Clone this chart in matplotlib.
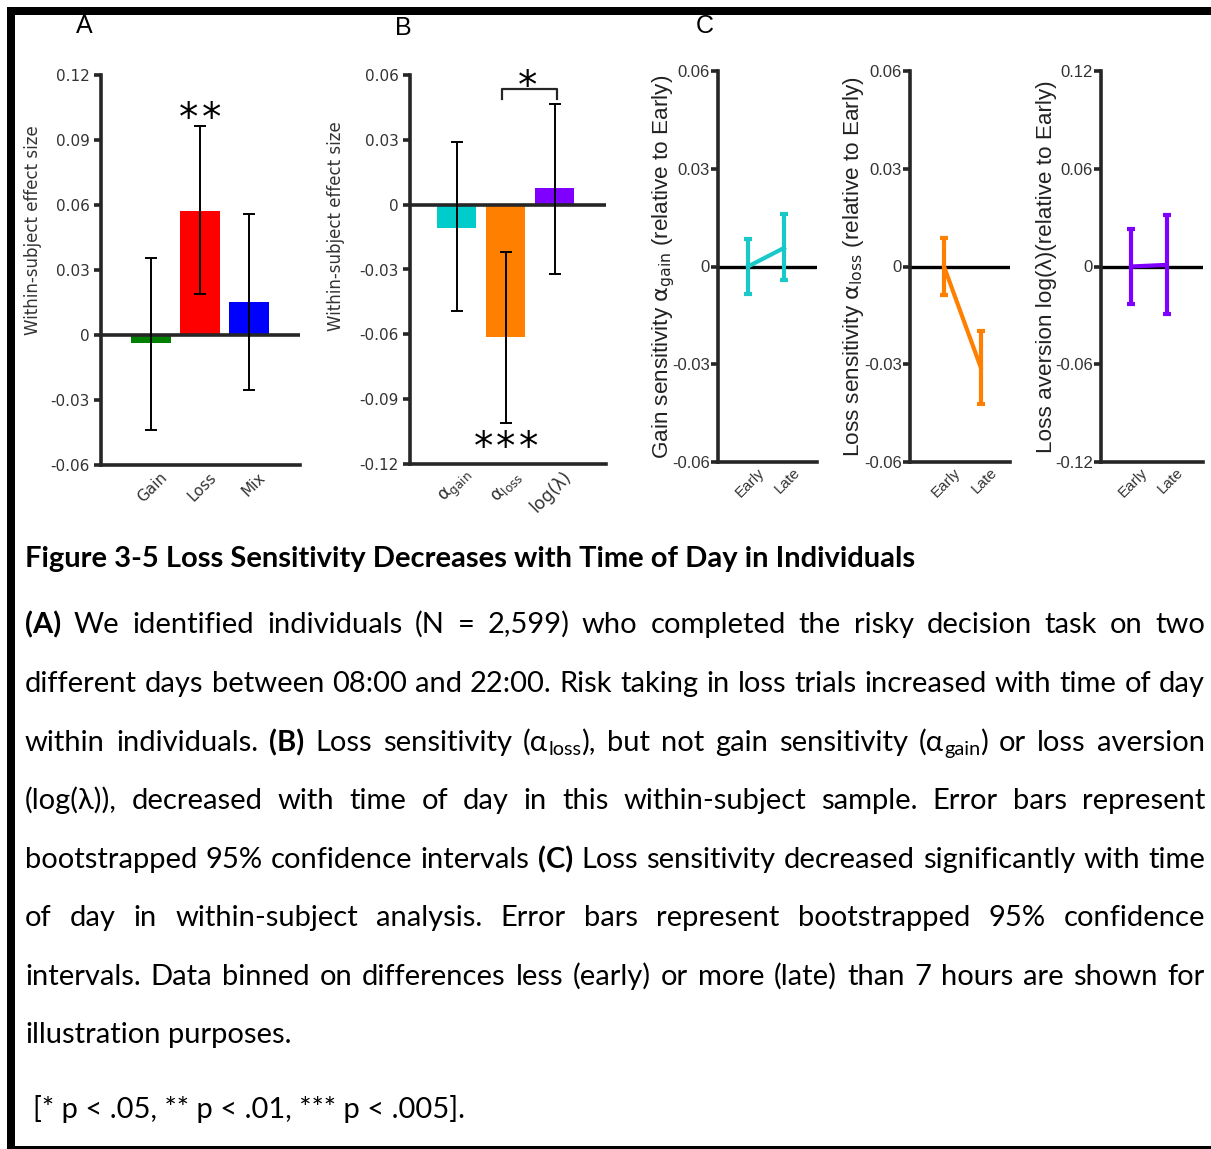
import re
import matplotlib
matplotlib.use("Agg")
import matplotlib.pyplot as plt
from matplotlib.patches import Rectangle
from matplotlib.transforms import ScaledTranslation

W, H = 1211, 1149

# ---- panel A: within-subject effect sizes (risk taking)
a_labels = ["Gain", "Loss", "Mix"]
a_means = [-0.0035, 0.0572, 0.0151]
a_ci_low = [-0.0438, 0.0189, -0.0252]
a_ci_high = [0.0357, 0.0965, 0.0557]
a_colors = ["#008000", "#ff0000", "#0000ff"]
a_ticks = [-0.06, -0.03, 0, 0.03, 0.06, 0.09, 0.12]
a_ticklabels = ["-0.06", "-0.03", "0", "0.03", "0.06", "0.09", "0.12"]

# ---- panel B: model parameters
b_labels = [r"$\mathrm{\alpha_{gain}}$", r"$\mathrm{\alpha_{loss}}$", "log(λ)"]
b_means = [-0.0106, -0.0611, 0.0077]
b_ci_low = [-0.0494, -0.1008, -0.0323]
b_ci_high = [0.0292, -0.0218, 0.0465]
b_colors = ["#00cccc", "#ff8000", "#8000ff"]
b_ticks = [-0.12, -0.09, -0.06, -0.03, 0, 0.03, 0.06]
b_ticklabels = ["-0.12", "-0.09", "-0.06", "-0.03", "0", "0.03", "0.06"]

# ---- panel C: early vs late
c_times = ["Early", "Late"]
c_gain_mean = [0.0, 0.0057]
c_gain_low = [-0.0084, -0.0041]
c_gain_high = [0.0083, 0.0160]
c_loss_mean = [0.0, -0.0309]
c_loss_low = [-0.0089, -0.0421]
c_loss_high = [0.0087, -0.0199]
c_lam_mean = [0.0, 0.0010]
c_lam_low = [-0.0233, -0.0290]
c_lam_high = [0.0231, 0.0317]
c_ticks_small = [-0.06, -0.03, 0, 0.03, 0.06]
c_ticklabels_small = ["-0.06", "-0.03", "0", "0.03", "0.06"]
c_ticks_big = [-0.12, -0.06, 0, 0.06, 0.12]
c_ticklabels_big = ["-0.12", "-0.06", "0", "0.06", "0.12"]

caption_title = "Figure 3-5 Loss Sensitivity Decreases with Time of Day in Individuals"
caption_lines = [
    "§(A) We identified individuals (N = 2,599) who completed the risky decision task on two",
    "different days between 08:00 and 22:00. Risk taking in loss trials increased with time of day",
    "within individuals. §(B) Loss sensitivity (α_{loss}), but not gain sensitivity (α_{gain}) or loss aversion",
    "(log(λ)), decreased with time of day in this within-subject sample. Error bars represent",
    "bootstrapped 95% confidence intervals §(C) Loss sensitivity decreased significantly with time",
    "of day in within-subject analysis. Error bars represent bootstrapped 95% confidence",
    "intervals. Data binned on differences less (early) or more (late) than 7 hours are shown for",
    "illustration purposes.",
]
caption_note = "[* p < .05, ** p < .01, *** p < .005]."

SPINE = "#262626"
TICKC = "#333333"
AB_FONT = ["DejaVu Sans"]
C_FONT = ["Liberation Sans", "DejaVu Sans"]
CAP_FONT = ["Lato", "DejaVu Sans"]

fig = plt.figure(figsize=(W / 100, H / 100), dpi=100)


def ax_at(x0, y0, x1, y1):
    return fig.add_axes([x0 / W, 1 - y1 / H, (x1 - x0) / W, (y1 - y0) / H])


def px_rect(x0, y0, x1, y1):
    fig.add_artist(Rectangle((x0 / W, 1 - y1 / H), (x1 - x0) / W, (y1 - y0) / H,
                             transform=fig.transFigure, color="black", lw=0))


def style_axes(ax, ticks, ticklabels, fam, tsize, pad):
    for s in ["top", "right"]:
        ax.spines[s].set_visible(False)
    for s in ["left", "bottom"]:
        ax.spines[s].set_linewidth(2.6)
        ax.spines[s].set_color(SPINE)
    ax.set_yticks(ticks)
    ax.set_yticklabels(ticklabels, family=fam, fontsize=tsize, color=TICKC)
    ax.tick_params(axis="y", direction="out", length=5, width=2.6, color=SPINE, pad=pad)
    ax.tick_params(axis="x", length=0)


def shift_xlabels(ax, dx_px, fam, size, pad):
    ax.tick_params(axis="x", pad=pad)
    for lbl in ax.get_xticklabels():
        lbl.set_rotation(45)
        lbl.set_ha("right")
        lbl.set_va("center")
        lbl.set_rotation_mode("anchor")
        lbl.set_family(fam)
        lbl.set_fontsize(size)
        lbl.set_color(TICKC)
        lbl.set_transform(lbl.get_transform() + ScaledTranslation(dx_px / 100, 0, fig.dpi_scale_trans))


def stars(ax, xc, y, n, pitch):
    # individual asterisks, spaced like the original
    for k in range(n):
        ax.text(xc + (k - (n - 1) / 2) * pitch, y, "*", ha="center", va="baseline",
                fontsize=28, family=AB_FONT, clip_on=False)


def bar_panel(box, xlim, width, labels, means, lo, hi, colors, ylim, ticks, ticklabels, ylab_xy, lsize):
    ax = ax_at(*box)
    x = list(range(1, len(means) + 1))
    ax.bar(x, means, width=width, color=colors, zorder=1)
    ax.axhline(0, color=SPINE, lw=2.6, zorder=2)
    yerr = [[m - l for m, l in zip(means, lo)], [h - m for m, h in zip(means, hi)]]
    ax.errorbar(x, means, yerr=yerr, fmt="none", ecolor="black", elinewidth=1.4,
                capsize=4, capthick=1.4, zorder=3)
    ax.set_xlim(*xlim)
    ax.set_ylim(*ylim)
    style_axes(ax, ticks, ticklabels, AB_FONT, 11, 3)
    ax.set_xticks(x)
    ax.set_xticklabels(labels)
    shift_xlabels(ax, 14, AB_FONT, lsize, 7)
    ax.text(ylab_xy[0], ylab_xy[1], "Within-subject effect size", transform=ax.transAxes,
            rotation=90, ha="center", va="center", family=AB_FONT, fontsize=12, color=TICKC)
    return ax


def c_panel(box, early_px, spacing_px, means, lo, hi, color, ticks, ticklabels, ylabel, ylab_x):
    ax = ax_at(*box)
    x0, y0, x1, y1 = box
    left = 1 - (early_px - x0) / spacing_px
    ax.set_xlim(left, left + (x1 - x0) / spacing_px)
    ax.set_ylim(ticks[0], ticks[-1])
    ax.axhline(0, color="black", lw=2.4, zorder=1)
    x = [1, 2]
    yerr = [[m - l for m, l in zip(means, lo)], [h - m for m, h in zip(means, hi)]]
    ax.errorbar(x, means, yerr=yerr, fmt="-", color=color, lw=3, elinewidth=3,
                capsize=3, capthick=3, zorder=3)
    style_axes(ax, ticks, ticklabels, C_FONT, 12, 1)
    ax.set_xticks(x)
    ax.set_xticklabels(c_times)
    shift_xlabels(ax, 14, C_FONT, 11, 6)
    ax.text(ylab_x, 0.5, ylabel, transform=ax.transAxes, rotation=90, ha="center",
            va="center", family=C_FONT, fontsize=16.2, color="#222222")
    return ax


# panel A
ax_a = bar_panel((101, 75, 300, 465), (-0.02, 4.04), 0.82, a_labels, a_means, a_ci_low,
                 a_ci_high, a_colors, (-0.06, 0.12), a_ticks, a_ticklabels, (-0.342, 0.603), 11)
stars(ax_a, 2, 0.0944, 2, 0.47)

# panel B
ax_b = bar_panel((410, 75, 606, 464), (0.05, 4.05), 0.8, b_labels, b_means, b_ci_low,
                 b_ci_high, b_colors, (-0.12, 0.06), b_ticks, b_ticklabels, (-0.378, 0.612), 12.5)
ax_b.plot([1.92, 1.92, 3.04, 3.04], [0.049, 0.0534, 0.0534, 0.049], color=SPINE, lw=1.6,
          clip_on=False)
stars(ax_b, 2.44, 0.0492, 1, 0.45)
stars(ax_b, 2.01, -0.1177, 3, 0.45)

# panel C
c_panel((718, 71, 817, 462), 748, 36, c_gain_mean, c_gain_low, c_gain_high, "#19c8c8",
        c_ticks_small, c_ticklabels_small,
        r"Gain sensitivity $\mathrm{\alpha_{gain}}$ (relative to Early)", -0.545)
c_panel((910, 71, 1010, 462), 944, 36.7, c_loss_mean, c_loss_low, c_loss_high, "#ff8000",
        c_ticks_small, c_ticklabels_small,
        r"Loss sensitivity $\mathrm{\alpha_{loss}}$ (relative to Early)", -0.57)
c_panel((1101, 71, 1203, 462), 1131, 35.7, c_lam_mean, c_lam_low, c_lam_high, "#8000ff",
        c_ticks_big, c_ticklabels_big,
        "Loss aversion log(λ)(relative to Early)", -0.53)

for letter, lx, ly in [("A", 84, 26), ("B", 403, 28), ("C", 705, 26)]:
    fig.text(lx / W, 1 - ly / H, letter, ha="center", va="center", fontsize=18, family=C_FONT)

# frame
px_rect(7, 7, W, 15)
px_rect(7, 7, 15, H)
px_rect(7, 1146, W, H)

# ---- caption, justified between x=25 and x=1205
renderer = fig.canvas.get_renderer()
LEFT, RIGHT = 25, 1205
line_centres = [624, 683, 742, 800, 859, 917, 976, 1034]


def segments(word):
    if word.startswith("§"):
        return [(word[1:], "b")]
    parts = re.split(r"_\{([^}]*)\}", word)
    return [(p, "s" if i % 2 else "r") for i, p in enumerate(parts) if p]


def make_text(s, st, size):
    return fig.text(0, 0, s, fontsize=size * 0.68 if st == "s" else size,
                    fontweight="bold" if st == "b" else "normal", family=CAP_FONT,
                    ha="left", va="baseline", color="black")


def width(t):
    return t.get_window_extent(renderer).width


def build(size):
    lines = []
    for line in caption_lines:
        words = []
        for w in line.split(" "):
            words.append([(make_text(s, st, size), st) for s, st in segments(w)])
        lines.append(words)
    a = make_text("a a", "r", size)
    b = make_text("aa", "r", size)
    sp = width(a) - width(b)
    a.remove()
    b.remove()
    return lines, sp


size = 21
lines, sp = build(size)
natural = max(sum(width(t) for w in ws for t, _ in w) + sp * (len(ws) - 1) for ws in lines)
if natural > RIGHT - LEFT:
    for ws in lines:
        for w in ws:
            for t, _ in w:
                t.remove()
    size = size * (RIGHT - LEFT) / natural
    lines, sp = build(size)

base_off = 9
for i, ws in enumerate(lines):
    y = line_centres[i] + base_off
    wsum = sum(width(t) for w in ws for t, _ in w)
    gap = (RIGHT - LEFT - wsum) / (len(ws) - 1) if i < len(lines) - 1 else sp
    x = LEFT
    for w in ws:
        for t, st in w:
            yy = y + (0.15 * size * 100 / 72 if st == "s" else 0)
            t.set_position((x / W, 1 - yy / H))
            x += width(t)
        x += gap

fig.text(LEFT / W, 1 - (558 + base_off) / H, caption_title, fontsize=size, fontweight="bold",
         family=CAP_FONT, ha="left", va="baseline")
fig.text(33 / W, 1 - (1109 + base_off) / H, caption_note, fontsize=size, family=CAP_FONT,
         ha="left", va="baseline")

fig.savefig("out.png", dpi=100)
